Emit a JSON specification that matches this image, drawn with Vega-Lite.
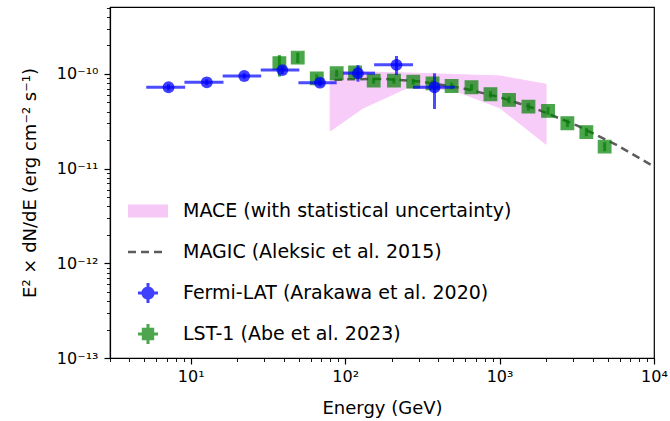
{
  "$schema": "https://vega.github.io/schema/vega-lite/v6.json",
  "width": 544,
  "height": 351,
  "autosize": {"type": "none"},
  "padding": {"left": 110, "top": 7, "right": 16, "bottom": 63},
  "background": "white",
  "config": {
    "view": {"stroke": "black", "strokeWidth": 1.2},
    "font": "DejaVu Sans"
  },
  "resolve": {"axis": {"x": "independent", "y": "independent"}},
  "datasets": {
    "fermi": [
      {"E": 7.18, "F": 7.24e-11, "Elo": 5.15, "Ehi": 9.2, "Flo": 6.7e-11, "Fhi": 7.8e-11},
      {"E": 12.7, "F": 8.17e-11, "Elo": 9.1, "Ehi": 16.3, "Flo": 7.6e-11, "Fhi": 8.8e-11},
      {"E": 22.2, "F": 9.53e-11, "Elo": 16.1, "Ehi": 28.6, "Flo": 8.9e-11, "Fhi": 1.02e-10},
      {"E": 39.2, "F": 1.10e-10, "Elo": 28.4, "Ehi": 50.5, "Flo": 1.0e-10, "Fhi": 1.21e-10},
      {"E": 68.7, "F": 8.09e-11, "Elo": 49.8, "Ehi": 88.1, "Flo": 7.4e-11, "Fhi": 8.9e-11},
      {"E": 121, "F": 1.02e-10, "Elo": 96.9, "Ehi": 156, "Flo": 8.3e-11, "Fhi": 1.24e-10},
      {"E": 215, "F": 1.25e-10, "Elo": 154, "Ehi": 275, "Flo": 9.76e-11, "Fhi": 1.55e-10},
      {"E": 379, "F": 7.24e-11, "Elo": 275, "Ehi": 513, "Flo": 4.27e-11, "Fhi": 1.017e-10}
    ],
    "lst": [
      {"E": 37.5, "F": 1.30e-10, "Flo": 9.37e-11, "Fhi": 1.585e-10},
      {"E": 49.3, "F": 1.49e-10, "Flo": 1.30e-10, "Fhi": 1.68e-10},
      {"E": 65.5, "F": 9.0e-11, "Flo": 8.2e-11, "Fhi": 9.9e-11},
      {"E": 88.1, "F": 1.017e-10, "Flo": 9.3e-11, "Fhi": 1.11e-10},
      {"E": 116, "F": 1.04e-10, "Flo": 9.5e-11, "Fhi": 1.13e-10},
      {"E": 153, "F": 8.5e-11, "Flo": 7.9e-11, "Fhi": 9.1e-11},
      {"E": 207, "F": 8.5e-11, "Flo": 7.9e-11, "Fhi": 9.1e-11},
      {"E": 276, "F": 8.29e-11, "Flo": 7.7e-11, "Fhi": 8.9e-11},
      {"E": 368, "F": 7.97e-11, "Flo": 7.4e-11, "Fhi": 8.6e-11},
      {"E": 489, "F": 7.47e-11, "Flo": 6.9e-11, "Fhi": 8.1e-11},
      {"E": 658, "F": 7.24e-11, "Flo": 6.7e-11, "Fhi": 7.8e-11},
      {"E": 873, "F": 6.11e-11, "Flo": 5.6e-11, "Fhi": 6.6e-11},
      {"E": 1151, "F": 5.32e-11, "Flo": 4.9e-11, "Fhi": 5.8e-11},
      {"E": 1538, "F": 4.52e-11, "Flo": 4.1e-11, "Fhi": 4.95e-11},
      {"E": 2060, "F": 4.07e-11, "Flo": 3.7e-11, "Fhi": 4.5e-11},
      {"E": 2748, "F": 3.02e-11, "Flo": 2.75e-11, "Fhi": 3.3e-11},
      {"E": 3647, "F": 2.43e-11, "Flo": 2.2e-11, "Fhi": 2.7e-11},
      {"E": 4790, "F": 1.71e-11, "Flo": 1.53e-11, "Fhi": 1.9e-11}
    ],
    "mace": [
      {"E": 80, "lo": 2.5e-11, "hi": 1.075e-10},
      {"E": 130, "lo": 4.35e-11, "hi": 1.05e-10},
      {"E": 250, "lo": 7.1e-11, "hi": 1.025e-10},
      {"E": 500, "lo": 6.78e-11, "hi": 9.88e-11},
      {"E": 1000, "lo": 4.4e-11, "hi": 9.53e-11},
      {"E": 2000, "lo": 1.81e-11, "hi": 7.79e-11}
    ],
    "magic": [
      {"E": 85, "F": 8.65e-11},
      {"E": 100, "F": 8.79e-11},
      {"E": 178, "F": 8.88e-11},
      {"E": 316, "F": 8.28e-11},
      {"E": 562, "F": 7.15e-11},
      {"E": 1000, "F": 5.70e-11},
      {"E": 1778, "F": 4.20e-11},
      {"E": 3162, "F": 2.86e-11},
      {"E": 5623, "F": 1.81e-11},
      {"E": 10000, "F": 1.05e-11}
    ]
  },
  "layer": [
    {
      "data": {"name": "mace"},
      "mark": {"type": "area", "color": "#ee82ee", "opacity": 0.4, "stroke": "#ee82ee", "strokeWidth": 1},
      "encoding": {
        "x": {
          "field": "E", "type": "quantitative",
          "scale": {"type": "log", "domain": [3, 10000], "nice": false},
          "axis": {
            "orient": "bottom",
            "title": "Energy (GeV)",
            "values": [10, 100, 1000, 10000],
            "labelExpr": "datum.value === 10 ? '10¹' : datum.value === 100 ? '10²' : datum.value === 1000 ? '10³' : '10⁴'",
            "labelOverlap": false, "labelBound": false, "labelFlush": false,
            "labelFont": "DejaVu Sans", "labelFontSize": 16, "labelColor": "black", "labelPadding": 4,
            "tickSize": 6, "tickWidth": 1.2,
            "tickColor": "black", "domainColor": "black", "domainWidth": 1.2, "grid": false,
            "titleFont": "DejaVu Sans", "titleFontSize": 18, "titleFontWeight": "normal", "titleColor": "black", "titlePadding": 15
          }
        },
        "y": {
          "field": "hi", "type": "quantitative",
          "scale": {"type": "log", "domain": [1e-13, 5.1e-10], "nice": false},
          "axis": {
            "orient": "left",
            "title": "E² × dN/dE (erg cm⁻² s⁻¹)",
            "values": [1e-13, 1e-12, 1e-11, 1e-10],
            "labelExpr": "datum.value === 1e-10 ? '10⁻¹⁰' : datum.value === 1e-11 ? '10⁻¹¹' : datum.value === 1e-12 ? '10⁻¹²' : '10⁻¹³'",
            "labelOverlap": false, "labelBound": false, "labelFlush": false,
            "labelFont": "DejaVu Sans", "labelFontSize": 16, "labelColor": "black", "labelPadding": 6,
            "tickSize": 6, "tickWidth": 1.2,
            "tickColor": "black", "domainColor": "black", "domainWidth": 1.2, "grid": false,
            "titleFont": "DejaVu Sans", "titleFontSize": 18, "titleFontWeight": "normal", "titleColor": "black", "titlePadding": 17
          }
        },
        "y2": {"field": "lo"}
      }
    },
    {
      "data": {"name": "magic"},
      "mark": {"type": "line", "color": "#5c5c5c", "strokeDash": [8, 5], "strokeWidth": 2.5, "clip": true},
      "encoding": {
        "x": {
          "field": "E", "type": "quantitative", "scale": {"type": "log", "domain": [3, 10000], "nice": false},
          "axis": {
            "orient": "bottom", "title": null, "labels": false, "domain": false, "grid": false,
            "values": [3,4,5,6,7,8,9,20,30,40,50,60,70,80,90,200,300,400,500,600,700,800,900,2000,3000,4000,5000,6000,7000,8000,9000],
            "tickSize": 3.5, "tickWidth": 0.9, "tickColor": "black"
          }
        },
        "y": {
          "field": "F", "type": "quantitative", "scale": {"type": "log", "domain": [1e-13, 5.1e-10], "nice": false},
          "axis": {
            "orient": "left", "title": null, "labels": false, "domain": false, "grid": false,
            "values": [2e-13,3e-13,4e-13,5e-13,6e-13,7e-13,8e-13,9e-13,2e-12,3e-12,4e-12,5e-12,6e-12,7e-12,8e-12,9e-12,2e-11,3e-11,4e-11,5e-11,6e-11,7e-11,8e-11,9e-11,2e-10,3e-10,4e-10,5e-10],
            "tickSize": 3.5, "tickWidth": 0.9, "tickColor": "black"
          }
        }
      }
    },
    {
      "data": {"name": "lst"},
      "mark": {"type": "rule", "color": "green", "opacity": 0.7, "strokeWidth": 3},
      "encoding": {
        "x": {"field": "E", "type": "quantitative", "axis": null},
        "y": {"field": "Flo", "type": "quantitative", "axis": null},
        "y2": {"field": "Fhi"}
      }
    },
    {
      "data": {"name": "lst"},
      "mark": {"type": "point", "shape": "square", "filled": true, "size": 160, "color": "green", "opacity": 0.7, "stroke": "green", "strokeWidth": 1.2},
      "encoding": {
        "x": {"field": "E", "type": "quantitative", "axis": null},
        "y": {"field": "F", "type": "quantitative", "axis": null}
      }
    },
    {
      "data": {"name": "fermi"},
      "mark": {"type": "rule", "color": "blue", "opacity": 0.7, "strokeWidth": 3},
      "encoding": {
        "x": {"field": "Elo", "type": "quantitative", "axis": null},
        "x2": {"field": "Ehi"},
        "y": {"field": "F", "type": "quantitative", "axis": null}
      }
    },
    {
      "data": {"name": "fermi"},
      "mark": {"type": "rule", "color": "blue", "opacity": 0.7, "strokeWidth": 3},
      "encoding": {
        "x": {"field": "E", "type": "quantitative", "axis": null},
        "y": {"field": "Flo", "type": "quantitative", "axis": null},
        "y2": {"field": "Fhi"}
      }
    },
    {
      "data": {"name": "fermi"},
      "mark": {"type": "point", "shape": "circle", "filled": true, "size": 140, "color": "blue", "opacity": 0.75},
      "encoding": {
        "x": {"field": "E", "type": "quantitative", "axis": null},
        "y": {"field": "F", "type": "quantitative", "axis": null}
      }
    },
    {
      "data": {"name": "fermi"},
      "mark": {"type": "point", "filled": true, "opacity": 0},
      "encoding": {
        "x": {"field": "E", "type": "quantitative", "axis": null},
        "y": {"field": "F", "type": "quantitative", "axis": null},
        "color": {
          "datum": "Fermi-LAT (Arakawa et al. 2020)",
          "type": "nominal",
          "scale": {
            "domain": ["MACE (with statistical uncertainty)", "MAGIC (Aleksic et al. 2015)", "Fermi-LAT (Arakawa et al. 2020)", "LST-1 (Abe et al. 2023)"],
            "range": ["#f6c8f6", "#5c5c5c", "#4040ff", "#4da64d"]
          },
          "legend": {
            "title": null,
            "orient": "none",
            "legendX": 18,
            "legendY": 184,
            "padding": 0,
            "rowPadding": 11,
            "symbolSize": 1600,
            "symbolOpacity": 1,
            "symbolStrokeWidth": 0,
            "labelFont": "DejaVu Sans",
            "labelFontSize": 19,
            "labelColor": "black",
            "labelOffset": 15,
            "labelLimit": 500
          }
        },
        "shape": {
          "datum": "Fermi-LAT (Arakawa et al. 2020)",
          "type": "nominal",
          "scale": {
            "domain": ["MACE (with statistical uncertainty)", "MAGIC (Aleksic et al. 2015)", "Fermi-LAT (Arakawa et al. 2020)", "LST-1 (Abe et al. 2023)"],
            "range": [
              "M-1,-0.33H1V0.33H-1Z",
              "M-1,-0.065H-0.6V0.065H-1Z M-0.35,-0.065H0.05V0.065H-0.35Z M0.3,-0.065H0.7V0.065H0.3Z",
              "M0.33,0A0.33,0.33 0 1,1 -0.33,0A0.33,0.33 0 1,1 0.33,0Z M-0.5,-0.075H0.5V0.075H-0.5Z M-0.075,-0.5H0.075V0.5H-0.075Z",
              "M-0.31,-0.31H0.31V0.31H-0.31Z M-0.5,-0.075H0.5V0.075H-0.5Z M-0.075,-0.5H0.075V0.5H-0.075Z"
            ]
          },
          "legend": {
            "title": null,
            "orient": "none",
            "legendX": 18,
            "legendY": 184,
            "padding": 0,
            "rowPadding": 11,
            "symbolSize": 1600,
            "symbolOpacity": 1,
            "symbolStrokeWidth": 0,
            "labelFont": "DejaVu Sans",
            "labelFontSize": 19,
            "labelColor": "black",
            "labelOffset": 15,
            "labelLimit": 500
          }
        }
      }
    }
  ]
}
